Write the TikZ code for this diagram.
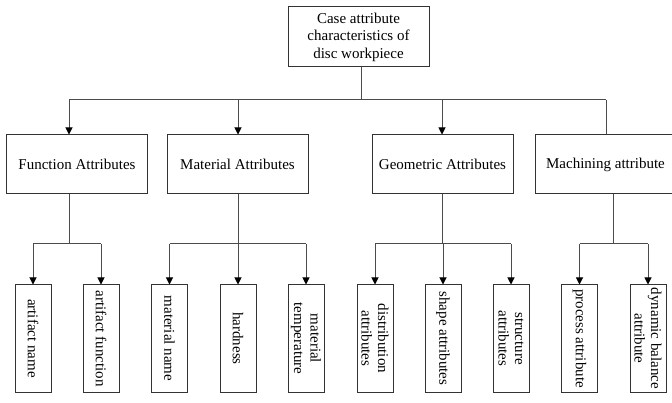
\documentclass[tikz,border=0pt]{standalone}
\usepackage{fontspec}
\setmainfont{Liberation Serif}
\usetikzlibrary{arrows.meta}

\begin{document}
\begin{tikzpicture}[x=1pt,y=-1pt,>={Triangle[length=7pt,width=7pt,color=black]},
  every node/.style={font=\fontsize{15}{17.5}\selectfont},
  attrbox/.style={draw=black!80,line width=1pt,minimum width=141pt,minimum height=59pt,inner sep=0pt,align=center},
  leafbox/.style={draw=black!80,line width=1pt,rotate=-90,minimum width=107pt,minimum height=36pt,
    inner sep=0pt,align=center,font=\fontsize{15}{16.5}\selectfont},
  link/.style={draw=black!70,line width=1pt}]
  \useasboundingbox (0,0) rectangle (672,403);
  \clip (0,0) rectangle (672,403);

  % root
  \node[attrbox,minimum height=60pt] (case) at (358.5,37) {Case attribute\\characteristics of\\disc workpiece};

  % second level
  \node[attrbox] (fun)  at (77,164.5)    {Function Attributes};
  \node[attrbox] (mat)  at (237.5,164.5) {Material Attributes};
  \node[attrbox] (geo)  at (442.5,164.5) {Geometric Attributes};
  \node[attrbox] (mach) at (605.5,164.5) {Machining attribute};

  % leaves
  \node[leafbox] (fname) at (33,338.5)    {artifact name};
  \node[leafbox] (ffunc) at (101,338.5)   {artifact function};
  \node[leafbox] (mname) at (169.5,338.5) {material name};
  \node[leafbox] (mhard) at (238,338.5)   {hardness};
  \node[leafbox] (mtemp) at (306,338.5)   {material\\temperature};
  \node[leafbox] (gdist) at (375,338.5)   {distribution\\attributes};
  \node[leafbox] (gshap) at (443,338.5)   {shape attributes};
  \node[leafbox] (gstru) at (511,338.5)   {structure\\attributes};
  \node[leafbox] (mproc) at (579.5,338.5) {process attribute};
  \node[leafbox] (mdyn)  at (648,338.5)   {dynamic balance\\attribute};

  % root to second level
  \coordinate (b0) at (361,100);
  \coordinate (b1) at (69,100);
  \coordinate (b2) at (238,100);
  \coordinate (b3) at (442,100);
  \coordinate (b4) at (606,100);
  \draw[link] (b0 |- case.south) -- (b0);
  \draw[link] (b1) -- (b4);
  \draw[link,->] (b1) -- (b1 |- fun.north);
  \draw[link,->] (b2) -- (b2 |- mat.north);
  \draw[link,->] (b3) -- (b3 |- geo.north);
  \draw[link] (b4) -- (b4 |- mach.north);

  % second level to leaves
  \coordinate (f0) at (69,244);
  \coordinate (m0) at (238,244);
  \coordinate (g0) at (442,244);
  \coordinate (p0) at (613,244);
  \draw[link] (f0 |- fun.south) -- (f0);
  \draw[link] (m0 |- mat.south) -- (m0);
  \draw[link] (g0 |- geo.south) -- (g0);
  \draw[link] (p0 |- mach.south) -- (p0);
  \draw[link] (fname.west |- f0) -- (ffunc.west |- f0);
  \draw[link] (mname.west |- m0) -- (mtemp.west |- m0);
  \draw[link] (gdist.west |- g0) -- (gstru.west |- g0);
  \draw[link] (mproc.west |- p0) -- (mdyn.west |- p0);
  \foreach \leaf in {fname,ffunc,mname,mhard,mtemp,gdist,gshap,gstru,mproc,mdyn}
    \draw[link,->] (\leaf.west |- f0) -- (\leaf.west);
\end{tikzpicture}
\end{document}
